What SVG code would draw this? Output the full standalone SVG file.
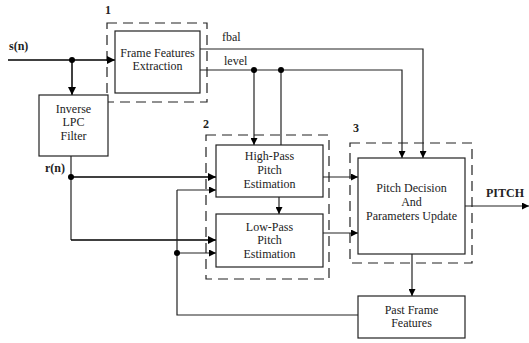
<svg xmlns="http://www.w3.org/2000/svg" width="529" height="343" viewBox="0 0 529 343">
<style>
.box{fill:#fff;stroke:#222;stroke-width:1.2}
.dash{fill:none;stroke:#222;stroke-width:1.2;stroke-dasharray:10 6}
.ln{fill:none;stroke:#222;stroke-width:1.2}
.thk{fill:none;stroke:#000;stroke-width:1.5}
text{font-family:"Times New Roman","Liberation Serif",serif;font-size:12px;fill:#222;text-anchor:middle}
.b{font-weight:bold;text-anchor:start}
.dot{fill:#000}
</style>
<defs>
<marker id="ah" viewBox="0 0 10 10" refX="10" refY="5" markerWidth="8" markerHeight="8" markerUnits="userSpaceOnUse" orient="auto"><path d="M0,0 L10,5 L0,10 z" fill="#000"/></marker>
<marker id="as" viewBox="0 0 10 10" refX="10" refY="5" markerWidth="7" markerHeight="7" markerUnits="userSpaceOnUse" orient="auto"><path d="M0,0 L10,5 L0,10 z" fill="#000"/></marker>
</defs>
<g id="groups">
<rect class="dash" x="107" y="23" width="100" height="79"/>
<text class="b" x="105" y="14">1</text>
<rect class="dash" x="206" y="135" width="123" height="144"/>
<text class="b" x="203" y="128">2</text>
<rect class="dash" x="350" y="143" width="122" height="120"/>
<text class="b" x="353" y="132">3</text>
</g>
<g id="connectors">
<path class="thk" d="M8,60 H115" marker-end="url(#ah)"/>
<path class="thk" d="M72,60 V95" marker-end="url(#ah)"/>
<path class="ln" d="M200,49 H423 V158" marker-end="url(#as)"/>
<path class="ln" d="M200,70 H402 V158" marker-end="url(#as)"/>
<path class="ln" d="M254,70 V145" marker-end="url(#as)"/>
<path class="ln" d="M281,70 V145"/>
<path class="ln" d="M71,156 V177"/>
<path class="thk" d="M71,177 H216" marker-end="url(#ah)"/>
<path class="ln" d="M71,177 V240"/>
<path class="thk" d="M71,240 H216" marker-end="url(#ah)"/>
<path class="ln" d="M177,190 H216" marker-end="url(#as)"/>
<path class="ln" d="M177,253 H216" marker-end="url(#as)"/>
<path class="ln" d="M358,315 H177 V190"/>
<path class="ln" d="M279,197 V214" marker-end="url(#as)"/>
<path class="ln" d="M323,177 H358" marker-end="url(#as)"/>
<path class="ln" d="M323,233 H358" marker-end="url(#as)"/>
<path class="ln" d="M465,206 H529" marker-end="url(#as)"/>
<path class="ln" d="M412,254 V296" marker-end="url(#as)"/>
<circle class="dot" cx="72" cy="60" r="3"/>
<circle class="dot" cx="254" cy="70" r="3"/>
<circle class="dot" cx="281" cy="70" r="3"/>
<circle class="dot" cx="71" cy="177" r="3"/>
<circle class="dot" cx="177" cy="253" r="3"/>
</g>
<g id="labels">
<text class="b" x="9" y="50">s(n)</text>
<text class="b" x="45" y="172">r(n)</text>
<text style="text-anchor:start" x="222" y="41">fbal</text>
<text style="text-anchor:start" x="224" y="65">level</text>
<text class="b" x="486" y="197">PITCH</text>
</g>
<g id="frame-features">
<rect class="box" x="115" y="31" width="85" height="62"/>
<text x="157.5" y="57">Frame Features</text>
<text x="157.5" y="70">Extraction</text>
</g>
<g id="inverse-lpc">
<rect class="box" x="39" y="95" width="69" height="61"/>
<text x="73.5" y="113">Inverse</text>
<text x="73.5" y="126">LPC</text>
<text x="73.5" y="140">Filter</text>
</g>
<g id="high-pass">
<rect class="box" x="216" y="145" width="107" height="52"/>
<text x="269.5" y="160">High-Pass</text>
<text x="269.5" y="174">Pitch</text>
<text x="269.5" y="188">Estimation</text>
</g>
<g id="low-pass">
<rect class="box" x="216" y="214" width="107" height="53"/>
<text x="269.5" y="231">Low-Pass</text>
<text x="269.5" y="244">Pitch</text>
<text x="269.5" y="258">Estimation</text>
</g>
<g id="pitch-decision">
<rect class="box" x="358" y="158" width="107" height="96"/>
<text x="411.5" y="192">Pitch Decision</text>
<text x="411.5" y="206">And</text>
<text x="411.5" y="220">Parameters Update</text>
</g>
<g id="past-frame">
<rect class="box" x="358" y="296" width="107" height="42"/>
<text x="411.5" y="314">Past Frame</text>
<text x="411.5" y="327">Features</text>
</g>
</svg>
